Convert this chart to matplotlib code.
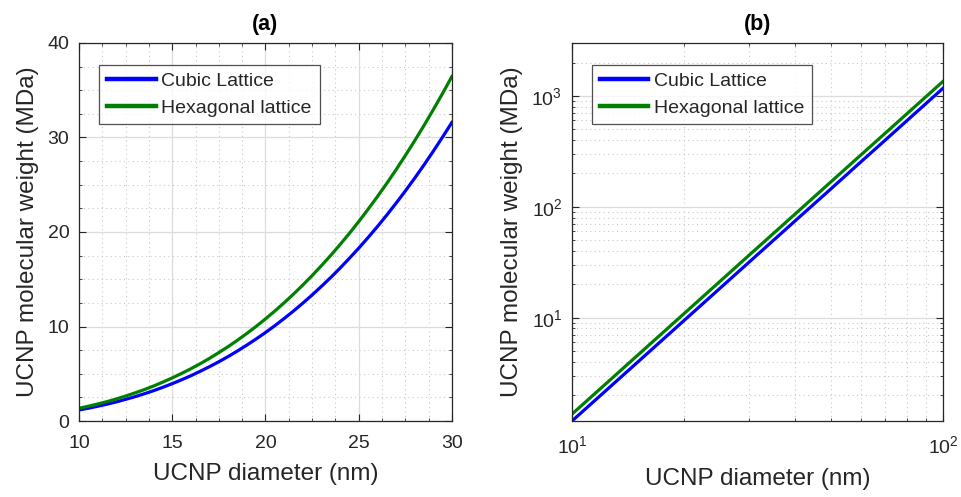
import numpy as np
import matplotlib
matplotlib.use("Agg")
import matplotlib.pyplot as plt
from matplotlib.ticker import MultipleLocator, LogLocator, NullFormatter

#  DATA
diam_lin  = [10, 10.5, 11, 11.5, 12, 12.5, 13, 13.5, 14, 14.5, 15,
             15.5, 16, 16.5, 17, 17.5, 18, 18.5, 19, 19.5, 20,
             20.5, 21, 21.5, 22, 22.5, 23, 23.5, 24, 24.5, 25,
             25.5, 26, 26.5, 27, 27.5, 28, 28.5, 29, 29.5, 30]
cubic_lin = [1.17, 1.35, 1.56, 1.78, 2.02, 2.29, 2.57, 2.88, 3.21, 3.57, 3.95,
             4.36, 4.79, 5.26, 5.75, 6.27, 6.82, 7.41, 8.03, 8.68, 9.36,
             10.08, 10.84, 11.63, 12.46, 13.33, 14.24, 15.18, 16.17, 17.21, 18.28,
             19.40, 20.56, 21.77, 23.03, 24.33, 25.68, 27.08, 28.54, 30.04, 31.59]
hex_lin   = [1.35, 1.56, 1.80, 2.05, 2.33, 2.64, 2.97, 3.32, 3.70, 4.12, 4.56,
             5.03, 5.53, 6.06, 6.63, 7.24, 7.87, 8.55, 9.26, 10.01, 10.80,
             11.63, 12.50, 13.42, 14.38, 15.38, 16.43, 17.52, 18.66, 19.85, 21.09,
             22.39, 23.73, 25.12, 26.57, 28.08, 29.64, 31.25, 32.93, 34.66, 36.45]

diam_log  = [10, 20, 30, 40, 50, 60, 70, 80, 90, 100]
cubic_log = [1.17, 9.36, 31.6, 74.9, 146, 253, 401, 599, 853, 1170]
hex_log   = [1.35, 10.8, 36.5, 86.4, 169, 292, 463, 691, 984, 1350]

series_names = ["Cubic Lattice", "Hexagonal lattice"]
panel_titles = ["(a)", "(b)"]

#  STYLE
plt.rcParams['font.family'] = ['Liberation Sans', 'DejaVu Sans']
plt.rcParams['mathtext.default'] = 'regular'
BLUE  = '#0000ff'
GREEN = '#008000'
TXT   = '#262626'
LW    = 2.3

fig = plt.figure(figsize=(9.61, 4.97), dpi=100)
ax1 = fig.add_axes([0.0822, 0.1529, 0.388, 0.7606])
ax2 = fig.add_axes([0.5952, 0.1529, 0.386, 0.7606])


def style_axes(ax):
    for s in ax.spines.values():
        s.set_color(TXT)
        s.set_linewidth(0.9)
    ax.tick_params(which='both', direction='in', top=True, right=True,
                   colors=TXT, labelsize=14, labelcolor=TXT)
    ax.tick_params(which='major', length=5)
    ax.tick_params(axis='x', which='major', pad=10)
    ax.tick_params(axis='y', which='major', pad=7)
    ax.tick_params(which='minor', length=2.5)
    ax.grid(True, which='major', color='#dcdcdc', linewidth=0.9, linestyle='-')
    ax.grid(True, which='minor', color='#c8c8c8', linewidth=0.8, linestyle=(0, (1, 3)))
    ax.set_axisbelow(True)
    ax.set_xlabel("UCNP diameter (nm)", fontsize=17.5, color=TXT, labelpad=8)
    ax.set_ylabel("UCNP molecular weight (MDa)", fontsize=17.5, color=TXT, labelpad=6)


def add_legend(ax):
    leg = ax.legend(loc='upper left', bbox_to_anchor=(0.054, 0.942),
                    fontsize=14, frameon=True, fancybox=False,
                    edgecolor='#262626', handlelength=2.5, handletextpad=0.3,
                    borderpad=0.4, labelspacing=0.45, borderaxespad=0)
    leg.get_frame().set_linewidth(0.9)
    for h in leg.legend_handles:
        h.set_linewidth(3.2)
    for t in leg.get_texts():
        t.set_color(TXT)


#  (a) linear
ax1.plot(diam_lin, cubic_lin, color=BLUE, lw=LW, label=series_names[0])
ax1.plot(diam_lin, hex_lin, color=GREEN, lw=LW, label=series_names[1])
ax1.set_xlim(10, 30)
ax1.set_ylim(0, 40)
ax1.xaxis.set_major_locator(MultipleLocator(5))
ax1.xaxis.set_minor_locator(MultipleLocator(1.25))
ax1.yaxis.set_major_locator(MultipleLocator(10))
ax1.yaxis.set_minor_locator(MultipleLocator(2.5))
style_axes(ax1)
add_legend(ax1)
ax1.set_title(panel_titles[0], fontsize=15.5, fontweight='bold', color='black', pad=9)

#  (b) log-log
ax2.loglog(diam_log, cubic_log, color=BLUE, lw=LW, label=series_names[0])
ax2.loglog(diam_log, hex_log, color=GREEN, lw=LW, label=series_names[1])
ax2.set_xlim(10, 100)
ax2.set_ylim(1.17, 3000)
ax2.xaxis.set_major_locator(LogLocator(base=10, numticks=10))
ax2.xaxis.set_minor_locator(LogLocator(base=10, subs=np.arange(2, 10), numticks=10))
ax2.xaxis.set_minor_formatter(NullFormatter())
ax2.yaxis.set_major_locator(LogLocator(base=10, numticks=10))
ax2.yaxis.set_minor_locator(LogLocator(base=10, subs=np.arange(2, 10), numticks=10))
ax2.yaxis.set_minor_formatter(NullFormatter())
style_axes(ax2)
add_legend(ax2)
ax2.set_title(panel_titles[1], fontsize=15.5, fontweight='bold', color='black', pad=9)

fig.savefig("out.png", dpi=100)
